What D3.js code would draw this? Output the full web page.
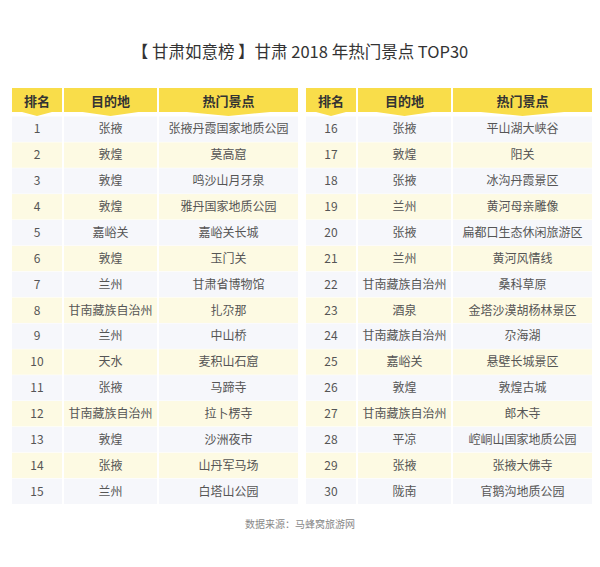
<!DOCTYPE html><html><head><meta charset="utf-8"><script src="https://cdn.jsdelivr.net/npm/d3@7"></script>
<style>body{margin:0;background:#fff}</style></head><body><svg id="c" width="600" height="567"></svg>
<script>
const headers=["排名","目的地","热门景点"];
const ranks=d3.range(1,31);
const dests=["张掖","敦煌","敦煌","敦煌","嘉峪关","敦煌","兰州","甘南藏族自治州","兰州","天水","张掖","甘南藏族自治州","敦煌","张掖","兰州",
"张掖","敦煌","张掖","兰州","张掖","兰州","甘南藏族自治州","酒泉","甘南藏族自治州","嘉峪关","敦煌","甘南藏族自治州","平凉","张掖","陇南"];
const sights=["张掖丹霞国家地质公园","莫高窟","鸣沙山月牙泉","雅丹国家地质公园","嘉峪关长城","玉门关","甘肃省博物馆","扎尕那","中山桥","麦积山石窟","马蹄寺","拉卜楞寺","沙洲夜市","山丹军马场","白塔山公园",
"平山湖大峡谷","阳关","冰沟丹霞景区","黄河母亲雕像","扁都口生态休闲旅游区","黄河风情线","桑科草原","金塔沙漠胡杨林景区","尕海湖","悬壁长城景区","敦煌古城","郎木寺","崆峒山国家地质公园","张掖大佛寺","官鹅沟地质公园"];
const svg=d3.select("#c");
const F="'Noto Sans CJK SC','Noto Sans',sans-serif";
svg.append("text").attr("x",300).attr("y",58).attr("text-anchor","middle").attr("font-family",F).attr("font-size",16.5).attr("fill","#333").text("【 甘肃如意榜 】甘肃 2018 年热门景点 TOP30");
const y=d3.scaleBand().domain(d3.range(15)).range([116,504]);
const colW=[50,93,139],gap=2;
[12,306].forEach((x0,t)=>{
  const xs=[x0,x0+colW[0]+gap,x0+colW[0]+colW[1]+2*gap];
  headers.forEach((h,i)=>{
    const x=xs[i],w=colW[i],cx=x+w/2;
    svg.append("path").attr("d",`M${x},88 H${x+w} V112 L${cx+w*0.3},112 L${cx},116 L${cx-w*0.3},112 L${x},112 Z`).attr("fill","#f9dd4a");
    svg.append("text").attr("x",cx).attr("y",106).attr("text-anchor","middle").attr("font-family",F).attr("font-weight","bold").attr("font-size",13).attr("fill","#333").text(h);
  });
  d3.range(15).forEach(r=>{
    const k=t*15+r, yy=y(r);
    const vals=[ranks[k],dests[k],sights[k]];
    vals.forEach((v,i)=>{
      svg.append("rect").attr("x",xs[i]).attr("y",yy+0.5).attr("width",colW[i]).attr("height",y.bandwidth()-0.5).attr("fill",r%2?"#fdfae3":"#f6f7fb");
      svg.append("text").attr("x",xs[i]+colW[i]/2).attr("y",yy+y.bandwidth()/2+4.5).attr("text-anchor","middle").attr("font-family",F).attr("font-size",12).attr("fill","#555").text(v);
    });
  });
});
svg.append("text").attr("x",300).attr("y",528).attr("text-anchor","middle").attr("font-family",F).attr("font-size",10).attr("fill","#888").text("数据来源：马蜂窝旅游网");
</script></body></html>
